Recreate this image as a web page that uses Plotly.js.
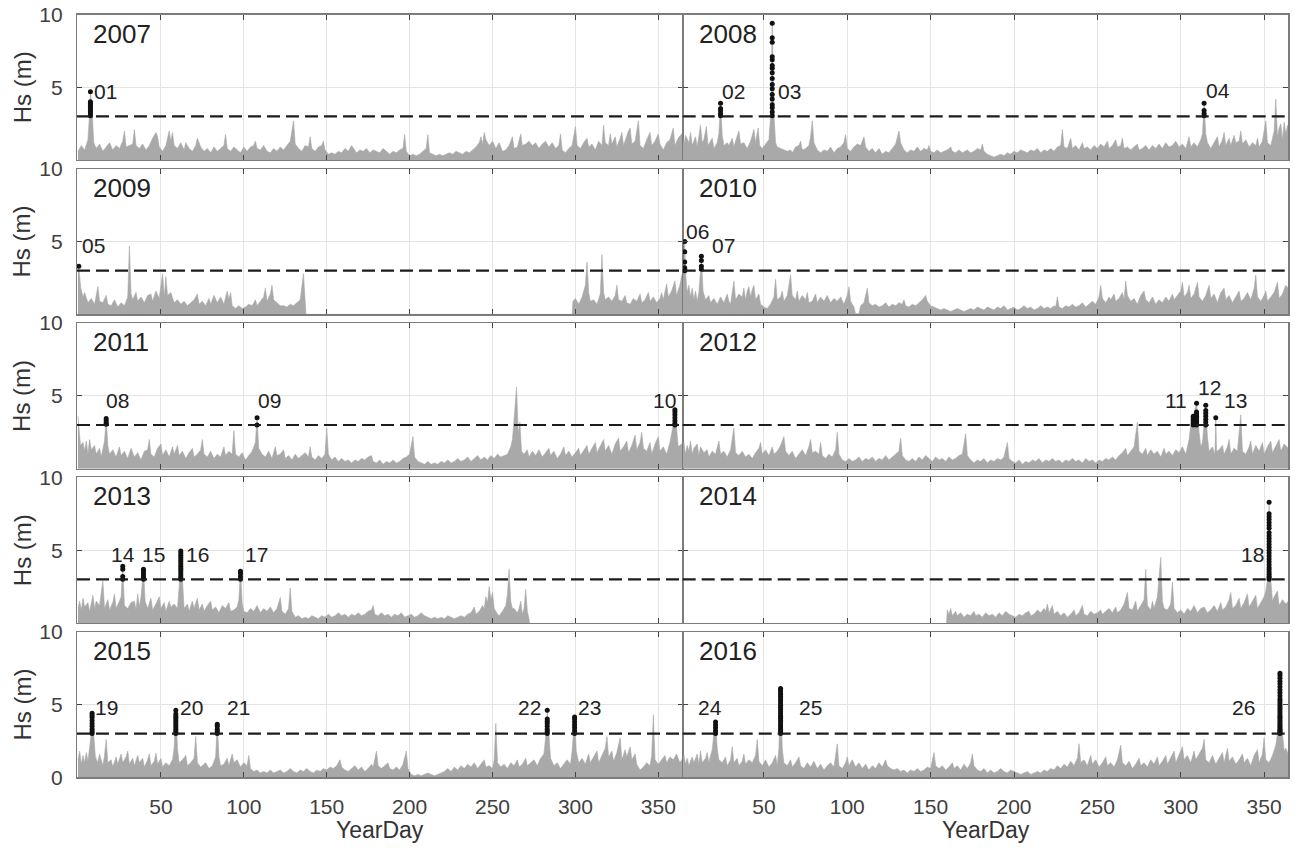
<!DOCTYPE html>
<html>
<head>
<meta charset="utf-8">
<script src="https://cdn.plot.ly/plotly-3.0.1.min.js"></script>
<style>
  html, body { margin: 0; padding: 0; background: #fff; }
  #chart { width: 1295px; height: 848px; }
</style>
</head>
<body>
<div id="chart"></div>
<script>
// Significant wave height, one record per year: [YearDay, Hs (m)]
const hs2007 = [[0,0.6],[2,1.0],[4,0.7],[6,1.4],[7,3.2],[7.5,4.7],[8.5,3.4],[9.5,1.2],[11,0.8],[13,1.1],[15,0.6],[17,0.9],[19,1.2],[21,0.7],[23,1.0],[25,0.8],[27,1.3],[28,2.0],[29,0.9],[31,1.0],[33,1.1],[34,2.1],[35,1.0],[37,0.8],[39,1.1],[41,0.7],[43,1.0],[45,1.5],[47,1.9],[48,1.6],[49,0.9],[51,0.6],[53,1.0],[55,2.0],[56,1.3],[57,1.9],[58,1.0],[60,0.8],[62,1.2],[64,0.7],[65,1.2],[67,0.8],[69,0.6],[71,1.0],[72,1.5],[74,0.9],[76,0.6],[78,0.8],[80,0.5],[82,0.9],[84,0.6],[86,0.8],[88,1.0],[89,1.75],[90,0.8],[92,0.6],[94,0.9],[96,0.7],[98,0.5],[100,0.9],[102,0.6],[104,0.9],[106,1.0],[107,1.3],[108,0.8],[110,0.7],[112,1.0],[114,0.6],[116,0.5],[118,0.8],[120,0.6],[122,0.9],[124,0.7],[126,1.0],[128,1.3],[130,2.7],[131,1.1],[133,0.8],[135,0.6],[137,1.0],[139,0.9],[140,1.6],[141,0.8],[143,0.6],[145,0.9],[147,1.0],[148,1.3],[149,0.7],[151,0.4],[153,0.5],[155,0.4],[157,0.6],[159,0.5],[161,0.8],[163,0.6],[165,1.0],[166,0.8],[168,0.5],[170,0.7],[172,0.6],[174,0.8],[176,0.5],[178,0.7],[180,0.6],[182,0.5],[184,0.8],[186,0.6],[188,0.4],[190,0.6],[192,0.5],[194,0.7],[196,0.8],[197,1.75],[198,0.6],[200,0.3],[202,0.4],[204,0.3],[206,0.4],[208,0.6],[210,0.8],[211,1.75],[212,0.5],[214,0.4],[216,0.3],[218,0.4],[220,0.3],[222,0.4],[224,0.5],[226,0.4],[228,0.6],[230,0.5],[232,0.4],[234,0.6],[236,0.5],[238,0.7],[240,0.9],[242,1.2],[243,1.6],[244,1.1],[245,1.9],[246,1.4],[248,1.0],[250,1.3],[252,0.8],[254,1.2],[256,0.6],[258,0.7],[260,1.0],[262,1.6],[263,0.8],[265,0.9],[267,1.8],[268,1.0],[270,1.1],[272,1.3],[274,1.0],[276,1.2],[278,0.8],[280,1.1],[282,1.3],[284,0.9],[286,1.2],[288,0.8],[290,1.0],[291,1.8],[292,0.7],[294,0.5],[296,0.8],[298,1.0],[300,2.3],[301,1.0],[303,0.8],[305,1.2],[307,1.5],[308,0.9],[310,1.1],[312,0.7],[314,1.3],[316,1.0],[317,2.4],[318,1.2],[320,1.0],[321,1.8],[322,1.1],[324,1.6],[325,0.9],[327,1.5],[328,1.9],[329,1.0],[331,1.7],[332,2.0],[333,2.2],[334,1.1],[336,1.3],[338,2.7],[339,1.0],[341,0.8],[343,1.4],[345,1.9],[346,1.0],[348,1.3],[350,1.8],[351,1.1],[353,0.7],[355,1.2],[357,1.4],[359,2.2],[360,1.0],[362,1.5],[364,1.8],[365,1.6]];

const hs2008 = [[0,1.2],[1,1.8],[2,1.0],[3,1.7],[5,1.2],[6,1.9],[7,1.0],[9,1.6],[10,0.9],[12,2.4],[13,1.2],[14,1.4],[15.5,2.3],[16.5,1.0],[18,1.3],[19,1.5],[20,0.8],[22,1.2],[23,1.8],[24,3.9],[25,1.7],[26,1.0],[28,1.2],[29,1.0],[31,1.5],[32,0.9],[33,1.3],[35,2.0],[36,1.1],[38,1.2],[40,0.8],[42,1.3],[44,2.1],[45,1.2],[46.5,2.2],[47.5,1.0],[49,0.8],[51,1.1],[53,1.4],[54,3.0],[55,9.4],[56,3.2],[57,1.2],[58,0.9],[60,0.8],[62,0.7],[64,0.6],[66,0.7],[67,0.5],[69,0.9],[71,1.0],[72,1.3],[73,0.7],[75,0.8],[77,1.0],[78,1.6],[79,2.7],[80,1.2],[82,0.7],[84,0.5],[86,0.7],[88,0.6],[90,0.9],[92,0.5],[94,0.8],[96,0.9],[98,1.2],[99,1.75],[100,0.8],[102,0.6],[104,0.9],[106,1.1],[108,1.0],[110,1.6],[111,0.9],[113,0.6],[115,0.8],[117,0.5],[119,0.8],[121,0.4],[123,0.6],[125,0.5],[127,0.8],[129,1.1],[131,2.0],[132,1.2],[134,0.7],[136,0.5],[138,0.7],[140,0.6],[142,0.9],[144,0.6],[146,0.8],[148,0.7],[149,1.0],[150,0.6],[152,0.5],[154,0.7],[156,0.5],[158,0.6],[160,0.7],[162,0.9],[163,0.6],[165,0.5],[167,0.7],[169,0.5],[171,0.6],[172,0.7],[174,0.5],[176,0.6],[178,0.8],[180,0.7],[181,1.1],[182,0.6],[184,0.4],[186,0.3],[188,0.2],[190,0.3],[192,0.4],[194,0.3],[196,0.5],[198,0.4],[200,0.6],[202,0.5],[204,0.7],[206,0.6],[208,0.5],[210,0.7],[212,0.6],[214,0.8],[216,0.5],[218,0.7],[220,0.6],[222,0.8],[224,0.6],[226,0.9],[228,1.0],[229,2.1],[230,0.9],[232,0.8],[234,1.5],[235,0.8],[237,1.0],[239,0.7],[241,1.2],[242,0.8],[244,0.9],[246,0.7],[248,1.0],[250,0.8],[252,1.1],[254,0.9],[256,1.3],[257,0.8],[259,1.0],[261,1.4],[262,0.9],[264,1.0],[265,1.5],[266,0.8],[268,0.9],[270,0.7],[272,0.9],[274,1.1],[275,0.7],[277,0.8],[279,1.0],[281,0.7],[283,1.0],[285,0.8],[287,1.1],[289,0.8],[291,1.2],[293,0.9],[295,1.0],[297,1.3],[299,0.9],[301,1.1],[303,0.8],[305,1.6],[306,0.9],[308,1.2],[310,0.9],[312,1.4],[313,1.8],[314,3.9],[315,1.8],[316,1.2],[318,0.8],[320,1.2],[322,1.6],[323,0.9],[325,1.4],[326,1.9],[327,1.0],[329,1.5],[330,1.0],[332,1.7],[333,1.2],[335,1.3],[336,2.0],[337,1.1],[339,1.4],[341,0.9],[343,1.2],[345,1.0],[346,1.5],[347,0.9],[349,1.3],[351,2.7],[352,1.2],[354,1.0],[356,2.0],[357,4.2],[358,1.6],[359,2.2],[360,2.5],[361,1.4],[362,2.6],[363,1.8],[364,2.4],[365,2.0]];

const hs2009 = [[0,3.0],[0.5,3.3],[1,2.6],[1.7,1.8],[3,1.2],[4,1.5],[6,0.8],[8,1.1],[10,0.7],[12,1.9],[13,0.9],[15,0.8],[17,1.3],[18,0.7],[20,0.6],[22,1.0],[24,0.5],[26,0.8],[28,0.6],[30,1.2],[31,4.7],[32,1.4],[33,1.0],[35,1.5],[36,0.9],[38,1.2],[40,0.8],[42,1.3],[44,1.4],[45,0.9],[47,1.6],[49,1.1],[51,2.8],[52,1.2],[53,2.6],[54,1.3],[56,1.5],[58,0.8],[60,1.0],[62,0.7],[64,0.9],[66,0.6],[68,0.8],[70,1.0],[72,1.4],[73,0.7],[75,0.9],[77,0.6],[79,1.1],[80,0.7],[82,1.3],[84,0.8],[86,1.2],[88,0.7],[90,1.6],[91,1.0],[92,1.5],[93,0.6],[95,0.4],[97,0.6],[99,0.4],[101,0.5],[103,0.7],[105,0.6],[107,1.0],[108,0.6],[110,0.9],[112,1.2],[113,1.8],[114,0.9],[116,1.4],[117,2.0],[118,1.0],[120,0.8],[122,0.6],[124,0.6],[126,0.5],[128,0.7],[130,0.6],[132,0.8],[134,1.0],[136,2.8],[137,0.9],[137.5,0],[298,0],[298.5,0.9],[300,1.1],[302,0.7],[304,1.2],[305,1.6],[306,2.0],[307,3.6],[308,1.5],[309,0.9],[311,1.0],[313,0.7],[315,1.4],[316,4.1],[317,1.5],[318,1.0],[320,1.2],[322,0.9],[324,1.3],[325,2.0],[326,1.0],[328,0.9],[330,1.3],[331,0.8],[333,0.7],[335,1.1],[337,0.9],[339,1.4],[340,0.8],[342,1.0],[344,1.5],[345,0.9],[347,1.2],[349,0.8],[351,1.1],[352,1.5],[353,1.0],[355,2.1],[356,1.2],[358,1.6],[360,2.3],[361,1.3],[363,2.0],[364,2.6],[365,3.0]];

const hs2010 = [[1.3,2.0],[2,3.0],[2.5,5.0],[3.2,2.6],[4,1.5],[5,2.0],[6,1.2],[7,1.8],[8,1.0],[9,1.6],[10,0.9],[11,1.5],[12,3.0],[12.5,4.0],[13.5,1.6],[15,1.0],[17,1.3],[18,0.8],[20,1.1],[22,0.7],[24,1.2],[26,0.8],[28,1.4],[29,0.9],[30,0.7],[32,2.3],[33,1.0],[35,1.4],[37,1.2],[38,1.8],[39,1.0],[40,1.6],[41,1.9],[42,1.2],[43,1.7],[44,2.0],[45,1.0],[47,1.4],[48,0.7],[50,0.5],[52,0.4],[54,0.7],[56,1.2],[57,2.4],[58,1.0],[60,1.2],[61,1.6],[62,0.9],[64,1.3],[66,2.7],[67,1.3],[69,1.0],[70,1.6],[71,0.9],[73,1.3],[75,1.0],[76,1.5],[77,0.8],[79,0.9],[81,1.4],[82,0.8],[84,1.2],[86,0.9],[88,1.3],[90,0.8],[92,1.1],[94,0.9],[96,1.2],[98,0.7],[100,1.3],[101,1.9],[102,0.9],[104,0.5],[105,0.05],[107,0.05],[108,0.6],[110,0.8],[112,1.8],[113,0.8],[115,0.6],[117,0.7],[119,0.5],[121,0.6],[123,0.8],[125,0.5],[127,0.7],[129,0.6],[131,0.8],[133,0.7],[134,1.0],[135,0.6],[137,0.5],[139,0.7],[141,0.6],[143,0.8],[145,1.0],[147,1.3],[148,0.9],[150,0.6],[152,0.5],[154,0.4],[156,0.3],[158,0.4],[160,0.3],[162,0.2],[164,0.3],[166,0.4],[168,0.3],[170,0.2],[172,0.3],[174,0.4],[176,0.3],[178,0.5],[180,0.4],[182,0.3],[184,0.5],[186,0.4],[188,0.3],[190,0.5],[192,0.4],[194,0.6],[196,0.3],[198,0.4],[200,0.5],[202,0.3],[204,0.4],[206,0.6],[208,0.4],[210,0.5],[212,0.3],[214,0.4],[216,0.6],[218,0.4],[220,0.5],[222,0.4],[224,0.6],[225,0.5],[226,1.2],[227,0.5],[229,0.4],[231,0.6],[233,0.5],[235,0.7],[237,0.5],[239,0.6],[241,0.8],[243,0.5],[245,0.7],[247,0.9],[249,0.7],[251,1.2],[252,2.0],[253,1.1],[255,0.8],[257,1.2],[258,1.0],[260,1.4],[261,0.9],[263,1.1],[265,1.5],[266,1.0],[267,2.3],[268,1.3],[270,0.9],[272,1.1],[274,0.7],[276,1.3],[278,1.6],[279,1.0],[281,0.8],[283,1.2],[285,0.7],[287,1.0],[289,0.8],[291,1.2],[293,0.9],[295,1.4],[296,1.0],[298,1.3],[300,1.6],[301,2.2],[302,1.2],[304,1.5],[305,2.0],[306,1.1],[308,1.4],[310,2.2],[311,1.2],[313,0.9],[315,1.3],[317,2.0],[318,1.1],[320,1.4],[322,0.8],[324,1.5],[326,1.8],[327,1.0],[329,1.3],[331,0.8],[333,1.2],[335,1.6],[336,0.9],[338,1.1],[340,1.5],[342,1.0],[344,1.8],[345,2.7],[346,1.2],[348,0.9],[350,1.3],[351,1.6],[352,0.9],[354,1.2],[356,1.5],[358,2.2],[359,1.1],[361,1.4],[363,2.0],[364.5,1.8]];

const hs2011 = [[0,3.6],[0.8,2.5],[1.5,1.6],[3,1.8],[4,1.2],[5,1.9],[6,1.0],[7,2.0],[8,1.3],[10,1.6],[11,1.0],[13,1.4],[14,0.8],[16,1.9],[17,3.5],[18,1.6],[19,1.0],[21,1.3],[23,0.8],[25,1.5],[26,0.9],[28,1.2],[30,0.7],[32,1.4],[34,0.8],[36,1.1],[38,0.6],[40,1.2],[42,1.3],[43,2.0],[44,1.0],[46,0.8],[48,1.4],[50,1.7],[51,0.9],[53,1.3],[55,0.8],[57,1.5],[58,1.0],[60,1.6],[61,0.9],[63,1.2],[65,0.7],[67,1.1],[69,1.4],[70,0.8],[72,1.0],[74,1.3],[75,2.0],[76,1.0],[78,0.8],[80,1.2],[82,0.7],[84,1.0],[86,0.8],[88,1.5],[89,0.9],[91,1.2],[93,1.0],[94,2.6],[95,1.0],[97,0.8],[99,1.1],[101,0.6],[103,0.9],[105,1.2],[107,1.8],[108,3.5],[109,1.4],[111,1.0],[113,0.8],[115,1.2],[117,0.7],[119,1.5],[120,0.9],[122,1.0],[124,1.3],[125,0.7],[127,0.9],[129,0.6],[131,1.0],[133,0.7],[135,0.9],[137,1.1],[139,0.8],[140,1.5],[141,0.8],[143,0.6],[145,0.9],[147,0.7],[149,1.0],[150,2.8],[151,1.0],[153,0.6],[155,0.8],[157,0.5],[159,0.7],[161,0.5],[163,0.6],[165,0.4],[167,0.6],[169,0.5],[171,0.7],[173,0.6],[175,0.8],[177,0.9],[178,0.5],[180,0.4],[182,0.6],[184,0.3],[186,0.5],[188,0.4],[190,0.6],[192,0.4],[194,0.5],[196,0.7],[198,0.8],[200,1.0],[202,2.2],[203,0.8],[205,0.5],[207,0.4],[209,0.3],[211,0.5],[213,0.3],[215,0.4],[217,0.3],[219,0.5],[221,0.4],[223,0.6],[225,0.4],[227,0.5],[229,0.7],[231,0.5],[233,0.6],[235,0.8],[237,0.5],[239,0.7],[241,0.9],[243,0.6],[245,0.8],[247,0.6],[249,0.9],[251,0.7],[253,1.0],[255,0.8],[257,0.9],[259,1.0],[261,1.5],[262,2.0],[263,3.4],[264.5,5.6],[265.5,2.4],[266.5,3.2],[267.5,1.2],[269,1.0],[271,1.3],[272,0.8],[274,1.2],[276,0.9],[278,1.3],[280,0.8],[282,1.1],[284,1.4],[285,0.9],[287,1.2],[289,0.7],[291,1.0],[293,1.5],[294,0.9],[296,1.2],[298,0.8],[300,1.1],[302,1.4],[303,0.9],[305,1.3],[307,1.6],[308,1.0],[310,1.4],[312,1.8],[313,1.1],[315,1.5],[317,2.0],[318,1.2],[320,1.6],[322,1.0],[324,1.7],[326,2.1],[327,1.2],[329,1.5],[331,1.9],[332,1.1],[334,1.6],[336,2.3],[337,1.3],[339,1.8],[340,2.5],[341,1.4],[343,1.2],[345,1.8],[346,1.0],[348,1.7],[350,2.2],[351,1.2],[353,1.5],[355,1.0],[357,1.8],[358,2.4],[359,3.0],[360,4.1],[361,2.8],[362,1.5],[364,1.7],[365,1.5]];

const hs2012 = [[1.3,1.2],[2,1.8],[3,1.0],[4,1.6],[5,1.2],[6,1.9],[7,1.0],[8,1.4],[10,1.7],[11,0.9],[12,1.5],[14,1.1],[16,1.3],[17,0.8],[19,1.2],[21,1.0],[23,1.9],[24,1.0],[26,1.2],[28,0.8],[30,1.3],[32,2.8],[33,1.1],[35,0.9],[37,1.2],[39,0.8],[41,1.0],[43,0.7],[45,1.1],[47,1.4],[48,1.8],[49,1.0],[51,1.3],[53,0.9],[55,1.5],[56,1.0],[58,1.2],[60,1.6],[62,2.2],[63,1.2],[65,0.9],[67,1.2],[69,0.7],[71,1.0],[73,1.3],[75,0.9],[77,1.5],[78,2.0],[79,1.1],[81,1.2],[83,1.0],[84,1.8],[85,0.9],[87,0.7],[89,1.0],[91,0.8],[93,1.3],[94,2.5],[95,1.0],[97,0.6],[99,0.5],[101,0.7],[103,0.5],[105,0.6],[107,0.8],[109,0.5],[111,0.7],[113,0.6],[115,0.8],[117,0.5],[119,0.7],[121,0.6],[123,0.9],[125,0.6],[127,0.8],[129,1.0],[131,1.2],[132,2.1],[133,0.9],[135,0.6],[137,0.5],[139,0.7],[141,0.5],[143,0.8],[145,0.6],[147,0.9],[149,0.7],[151,0.5],[153,0.8],[155,0.6],[157,0.7],[159,0.5],[161,0.8],[163,0.6],[165,0.7],[167,0.9],[169,1.0],[171,2.4],[172,0.9],[174,0.6],[176,0.4],[178,0.6],[180,0.5],[182,0.7],[184,0.4],[186,0.6],[188,0.5],[190,0.7],[192,0.6],[194,0.8],[196,1.8],[197,0.7],[199,0.5],[201,0.4],[203,0.6],[205,0.3],[207,0.5],[209,0.4],[211,0.6],[213,0.5],[215,0.7],[217,0.4],[219,0.6],[221,0.5],[223,0.7],[225,0.5],[227,0.6],[229,0.4],[231,0.6],[233,0.5],[235,0.7],[237,0.5],[239,0.6],[241,0.4],[243,0.7],[245,0.5],[247,0.6],[249,0.4],[251,0.6],[253,0.5],[255,0.7],[257,0.6],[259,0.8],[261,0.6],[263,0.9],[265,1.1],[267,1.4],[268,0.9],[270,1.2],[272,1.5],[274,3.2],[275,1.2],[277,1.0],[279,1.4],[280,0.9],[282,1.3],[284,1.0],[286,1.2],[288,0.8],[290,1.4],[291,1.0],[293,1.2],[295,0.9],[297,1.3],[299,1.1],[301,1.5],[303,1.0],[305,2.0],[306,3.0],[307.5,3.6],[309.5,4.5],[311,2.5],[312,1.5],[313,1.8],[314,3.0],[315,4.35],[316,2.2],[317,1.2],[319,1.5],[320.5,1.0],[321,3.5],[321.5,1.2],[323,1.3],[325,1.6],[326,1.0],[328,1.5],[329,2.0],[330,1.0],[332,1.4],[334,1.2],[336,3.7],[337,1.2],[339,1.0],[341,1.5],[342,1.9],[343,1.0],[345,1.6],[347,1.2],[349,1.8],[350,1.0],[352,1.5],[354,1.9],[355,1.1],[357,1.6],[359,2.0],[360,1.2],[362,1.7],[364.5,1.4]];

const hs2013 = [[0,1.0],[1,1.5],[2,0.9],[3,1.7],[4,1.1],[6,1.4],[7,0.8],[9,1.9],[10,1.0],[11,1.5],[13,1.2],[15,2.9],[16,1.0],[18,1.6],[19,0.9],[21,1.4],[22,2.0],[23,1.0],[25,1.5],[26,1.8],[27,3.9],[28,1.2],[30,1.0],[32,1.4],[34,1.5],[35,0.9],[36,2.0],[37,1.1],[38,1.8],[39.5,3.7],[40.5,1.5],[42,1.0],[44,1.7],[45,0.9],[47,1.3],[49,1.8],[50,1.0],[52,1.4],[53,0.8],[55,1.5],[56,1.1],[58,1.3],[60,1.0],[61,2.5],[62,5.0],[63,2.5],[64,1.0],[66,1.3],[67,0.8],[69,1.5],[70,1.0],[72,1.7],[73,0.9],[75,1.3],[76,0.8],[78,1.2],[80,1.5],[81,0.9],[83,1.1],[85,0.7],[87,1.2],[89,1.0],[91,1.4],[92,0.8],[94,0.9],[96,1.1],[97,1.6],[98,3.6],[99,1.4],[100,0.8],[102,0.7],[104,1.0],[106,0.8],[108,1.2],[110,0.7],[112,1.0],[114,0.8],[116,1.1],[118,0.7],[120,1.0],[122,1.75],[123,0.8],[125,0.6],[127,1.0],[128,2.4],[129,0.8],[131,0.4],[133,0.5],[135,0.3],[137,0.4],[139,0.3],[141,0.5],[143,0.4],[145,0.3],[147,0.5],[149,0.4],[151,0.6],[153,0.4],[155,0.5],[157,0.7],[159,0.5],[161,0.6],[163,0.4],[165,0.6],[167,0.5],[169,0.7],[171,0.5],[173,0.6],[175,0.8],[177,0.9],[178,1.2],[179,0.6],[181,0.5],[183,0.7],[185,0.5],[187,0.6],[189,0.4],[191,0.6],[193,0.5],[195,0.7],[197,0.4],[199,0.5],[201,0.6],[203,0.4],[205,0.5],[207,0.7],[209,0.5],[211,0.4],[213,0.3],[215,0.4],[217,0.3],[219,0.4],[221,0.3],[223,0.5],[225,0.4],[227,0.3],[229,0.4],[231,0.5],[233,0.4],[235,0.6],[237,0.7],[239,1.1],[240,0.6],[242,0.8],[244,1.2],[245,1.0],[246,1.8],[247,1.4],[248,2.5],[249,1.6],[250,2.1],[251,1.0],[253,0.6],[254,0.5],[256,0.8],[258,1.2],[259,2.0],[260,3.7],[261,1.5],[262,1.0],[263,1.0],[265,0.7],[266,1.0],[267,1.5],[268,0.6],[269,1.0],[270,2.3],[271,0.8],[272,0.3],[272.3,0]];

const hs2014 = [[159.5,0],[160,0.9],[161,0.6],[162,1.0],[163,0.5],[165,0.8],[166,0.5],[168,0.7],[170,0.4],[172,0.6],[174,0.5],[176,0.8],[177,0.5],[179,0.6],[181,0.4],[183,0.7],[185,0.5],[187,0.6],[189,0.4],[191,0.7],[193,0.5],[195,0.8],[197,0.6],[199,0.5],[201,0.4],[203,0.6],[205,0.5],[207,0.7],[209,0.8],[210,0.5],[212,0.6],[214,0.9],[216,0.7],[218,1.0],[219,0.8],[220,1.3],[221,0.7],[223,1.2],[224,0.6],[226,0.8],[228,0.5],[230,0.7],[232,0.4],[234,0.6],[236,0.9],[237,0.5],[239,0.7],[241,1.2],[242,0.6],[244,0.5],[246,0.8],[248,0.6],[250,0.7],[252,0.9],[253,0.6],[255,0.8],[257,1.0],[259,0.7],[261,1.1],[262,0.7],[264,0.9],[266,1.3],[268,2.1],[269,1.0],[271,0.9],[273,1.5],[274,0.8],[276,1.2],[278,1.6],[279,3.7],[280,1.2],[282,0.9],[283,1.5],[284,1.0],[286,1.8],[288,4.5],[289,1.5],[290,1.0],[292,0.9],[294,1.3],[295,2.8],[296,1.0],[298,0.7],[300,0.9],[302,0.6],[304,1.0],[306,0.8],[308,1.2],[310,0.7],[312,1.0],[314,1.1],[316,0.7],[318,0.9],[320,1.2],[322,0.8],[324,1.4],[325,0.9],[327,1.1],[329,1.6],[330,2.1],[331,1.0],[333,1.2],[335,1.7],[336,1.0],[338,1.4],[340,2.0],[341,1.1],[343,1.5],[345,1.9],[346,1.0],[348,1.4],[350,1.8],[351,2.2],[352,3.0],[353,8.3],[354,3.0],[355,1.5],[356,1.8],[358,2.2],[359,1.2],[361,1.6],[363,1.3],[364.5,1.5]];

const hs2015 = [[0,1.2],[1,1.8],[2,0.9],[3,1.5],[4,1.0],[5,1.7],[6,1.1],[7,2.0],[8,3.0],[8.5,4.4],[9.5,3.0],[10.5,1.4],[12,1.0],[13,1.6],[15,0.8],[16,1.5],[17,2.6],[18,1.0],[20,1.2],[21,0.7],[23,1.4],[24,0.9],[26,1.6],[27,1.0],[29,1.4],[30,1.8],[31,0.9],[33,1.3],[34,0.8],[36,1.5],[37,1.0],[39,1.3],[40,0.7],[42,1.2],[43,1.6],[44,0.8],[46,1.1],[47,1.65],[48,0.9],[50,1.3],[51,0.7],[53,1.0],[55,0.8],[57,1.2],[58,2.0],[59,4.6],[60,2.0],[61,1.0],[63,1.2],[65,1.5],[66,0.8],[68,1.0],[70,1.3],[71,2.8],[72,1.0],[74,0.7],[76,0.9],[77,1.0],[79,0.6],[81,0.8],[83,1.4],[84,3.7],[85,1.4],[86,0.8],[88,0.9],[90,1.3],[91,0.8],[93,1.6],[94,1.0],[96,1.2],[98,0.7],[100,1.0],[102,0.8],[103,1.5],[104,0.6],[106,0.4],[108,0.5],[110,0.3],[112,0.4],[114,0.3],[116,0.5],[118,0.3],[120,0.4],[122,0.5],[124,0.3],[126,0.4],[128,0.6],[130,0.4],[132,0.3],[134,0.5],[136,0.4],[138,0.6],[140,0.4],[142,0.3],[144,0.5],[146,0.4],[148,0.6],[150,0.5],[152,0.7],[154,0.6],[156,0.8],[157,1.0],[158,1.2],[159,0.7],[161,0.5],[163,0.4],[165,0.6],[167,0.8],[169,0.5],[171,0.7],[173,0.4],[175,0.6],[177,0.9],[178,0.7],[180,1.8],[181,0.8],[183,0.6],[185,0.8],[187,1.0],[188,0.6],[190,0.5],[192,0.7],[194,0.5],[196,0.9],[198,1.8],[199,0.6],[201,0.2],[203,0.1],[205,0.2],[207,0.1],[209,0.2],[211,0.3],[213,0.2],[215,0.1],[217,0.2],[219,0.3],[221,0.4],[223,0.6],[225,0.4],[227,0.7],[229,0.5],[231,0.8],[233,0.6],[235,0.9],[237,0.7],[239,1.0],[241,0.6],[243,0.9],[245,1.2],[246,0.7],[248,0.8],[250,0.6],[251,1.2],[252,3.7],[253,1.0],[255,0.7],[257,0.9],[259,0.6],[261,1.0],[263,0.8],[265,1.2],[266,0.7],[268,0.9],[270,1.3],[271,0.8],[273,1.0],[275,1.2],[277,0.8],[279,1.3],[281,1.6],[282,2.7],[283,4.6],[284,2.6],[285,1.3],[287,0.8],[289,1.0],[291,0.6],[293,0.9],[295,1.2],[297,0.9],[298,1.8],[299.5,4.15],[300.5,1.8],[302,1.0],[304,1.3],[306,0.9],[308,1.6],[309,1.0],[311,1.4],[313,1.8],[314,1.0],[316,1.5],[318,2.0],[319,2.8],[320,1.4],[322,1.8],[323,1.1],[325,1.7],[327,2.7],[328,1.2],[330,1.9],[331,1.4],[333,2.1],[334,1.2],[336,1.6],[337,0.9],[339,0.5],[341,0.7],[343,1.0],[345,0.8],[346,1.5],[347,4.3],[348,1.2],[350,0.9],[352,1.2],[354,1.5],[355,1.0],[357,1.4],[359,1.2],[361,1.6],[363,1.0],[364.7,1.3]];

const hs2016 = [[1.3,1.0],[2,1.5],[3,0.9],[4,1.3],[5,0.8],[7,1.4],[8,1.0],[10,1.6],[11,0.9],[12,1.8],[13,1.0],[15,1.3],[16,1.7],[17,1.0],[18,1.5],[19,1.9],[20,3.0],[21,3.8],[22,2.0],[23,1.2],[25,1.0],[27,1.4],[28,0.8],[30,1.2],[31,2.1],[32,1.0],[34,1.3],[35,0.8],[37,1.1],[38,1.6],[39,0.9],[41,1.2],[43,1.0],[45,1.5],[46,2.6],[47,1.1],[49,0.8],[51,1.2],[53,0.7],[55,1.0],[57,1.5],[58,0.8],[59,2.0],[60,6.1],[61,2.0],[62,1.0],[64,0.8],[66,1.2],[67,0.7],[69,1.0],[71,1.4],[72,0.8],[74,0.6],[76,1.0],[78,0.7],[80,1.1],[82,0.6],[84,0.9],[86,0.5],[88,0.8],[90,1.0],[92,0.7],[93,1.5],[94,2.3],[95,0.8],[97,0.6],[99,1.0],[100,1.4],[101,0.8],[103,1.2],[105,0.7],[107,1.0],[109,0.6],[111,0.9],[113,0.5],[115,0.8],[117,0.6],[119,1.0],[121,0.7],[123,1.2],[124,0.8],[126,0.6],[128,0.5],[130,0.6],[132,0.4],[134,0.5],[136,0.3],[138,0.5],[140,0.4],[142,0.6],[144,0.4],[146,0.5],[148,0.7],[150,0.6],[152,1.7],[153,0.8],[155,0.6],[157,0.8],[159,0.5],[161,0.7],[163,1.0],[164,0.6],[166,0.8],[168,0.5],[170,0.9],[172,0.6],[174,1.0],[175,1.6],[176,0.8],[178,0.5],[180,0.4],[182,0.6],[184,0.3],[186,0.5],[188,0.3],[190,0.4],[192,0.6],[194,0.4],[196,0.3],[198,0.5],[200,0.4],[202,0.3],[204,0.2],[206,0.3],[208,0.4],[210,0.2],[212,0.3],[214,0.4],[216,0.3],[218,0.5],[220,0.4],[222,0.6],[224,0.5],[226,0.8],[228,0.6],[230,0.9],[232,0.7],[234,1.1],[236,0.8],[238,1.3],[239,2.3],[240,1.0],[242,1.2],[244,0.8],[246,1.5],[247,0.9],[249,1.2],[251,0.7],[253,1.0],[255,1.4],[256,0.8],[258,1.0],[260,0.7],[262,1.2],[264,2.2],[265,1.0],[267,0.8],[269,1.1],[271,0.6],[273,0.9],[275,1.3],[276,0.8],[278,1.0],[280,0.7],[282,1.2],[284,0.9],[286,1.4],[287,0.8],[289,1.1],[291,1.5],[292,0.9],[294,1.3],[296,1.8],[297,1.0],[299,1.6],[301,2.1],[302,1.2],[304,1.5],[306,1.0],[308,1.8],[309,1.2],[311,1.6],[313,2.0],[314,2.6],[315,1.2],[317,1.0],[319,1.5],[321,0.9],[323,1.3],[325,1.7],[326,1.0],[328,2.0],[329,1.1],[331,1.4],[333,0.9],[335,1.2],[337,1.6],[338,1.0],[340,1.3],[342,0.8],[344,1.5],[346,1.9],[347,1.0],[349,1.6],[350,2.7],[351,1.2],[353,1.0],[355,1.5],[357,2.2],[358,3.0],[359.5,7.15],[361,3.0],[362,1.8],[363,2.0],[364.5,1.6]];

const years = [2007, 2008, 2009, 2010, 2011, 2012, 2013, 2014, 2015, 2016];
const yearSeries = [hs2007, hs2008, hs2009, hs2010, hs2011, hs2012, hs2013, hs2014, hs2015, hs2016];

// Storm threshold (m)
const threshold = 3;

// Storm records above the threshold: year, YearDay and the Hs values of each record
const stormYear = [2007, 2008, 2008, 2008, 2009, 2010, 2010, 2011, 2011, 2011, 2012, 2012, 2012, 2012, 2013, 2013, 2013, 2013, 2014, 2015, 2015, 2015, 2015, 2015, 2016, 2016, 2016];
const stormDay = [7.5, 24, 55, 314, 0.5, 2.5, 12.5, 17, 108, 360, 307.5, 309.5, 315, 321, 27, 39.5, 62, 98, 353, 8.5, 59, 84, 283, 299.5, 21, 60, 359.5];
const stormHs = [
  [3.05,3.2,3.35,3.5,3.6,3.7,3.8,3.9,4.0,4.7],
  [3.05,3.2,3.4,3.55,3.9],
  [3.05,3.3,3.6,3.8,4.2,4.5,4.9,5.2,5.6,6.0,6.3,6.5,6.9,7.1,8.1,8.4,9.4],
  [3.05,3.2,3.4,3.9],
  [3.3],
  [3.0,3.1,3.2,3.6,4.3,5.0],
  [3.1,3.3,3.7,4.0],
  [3.05,3.15,3.3,3.45],
  [3.0,3.5],
  [3.0,3.1,3.3,3.5,3.7,3.9,4.05],
  [3.0,3.1,3.2,3.3,3.4,3.5,3.6],
  [3.0,3.15,3.3,3.45,3.6,3.75,3.9,4.5],
  [3.0,3.2,3.4,3.6,3.8,4.0,4.35],
  [3.5],
  [3.0,3.2,3.7,3.9],
  [3.0,3.15,3.3,3.45,3.6,3.7],
  [3.0,3.15,3.3,3.45,3.6,3.75,3.9,4.05,4.2,4.35,4.5,4.65,4.8,4.95],
  [3.0,3.2,3.4,3.55],
  [3.0,3.1,3.2,3.35,3.5,3.65,3.8,4.0,4.2,4.4,4.6,4.8,5.0,5.2,5.4,5.6,5.8,6.0,6.2,6.5,6.7,6.9,7.1,7.3,7.5,8.3],
  [3.0,3.15,3.3,3.5,3.7,3.9,4.1,4.25,4.4],
  [3.0,3.15,3.3,3.45,3.6,3.75,3.9,4.05,4.2,4.35,4.6],
  [3.0,3.15,3.3,3.5,3.65],
  [3.0,3.15,3.3,3.5,3.7,3.85,4.0,4.6],
  [3.0,3.2,3.4,3.6,3.8,4.0,4.15],
  [3.0,3.2,3.4,3.6,3.8],
  [3.0,3.15,3.3,3.45,3.6,3.75,3.9,4.05,4.2,4.35,4.5,4.65,4.8,4.95,5.1,5.25,5.4,5.55,5.7,5.85,6.0,6.1],
  [3.0,3.1,3.2,3.3,3.45,3.6,3.75,3.9,4.05,4.2,4.35,4.5,4.65,4.8,4.95,5.1,5.25,5.4,5.6,5.8,6.0,6.2,6.4,6.6,6.8,7.0,7.15]
];

// Storm numbers
const stormLabels = ['01','02','03','04','05','06','07','08','09','10','11','12','13','14','15','16','17','18','19','20','21','22','23','24','25','26'];
const stormLabelYear = [2007,2008,2008,2008,2009,2010,2010,2011,2011,2011,2012,2012,2012,2013,2013,2013,2013,2014,2015,2015,2015,2015,2015,2016,2016,2016];

// Placement of the storm numbers (YearDay, Hs) inside their panels
const labelAt = [
  [16.8,4.7],[31.5,4.7],[65.6,4.7],[322.4,4.8],[9.5,4.7],[10,5.7],[26,4.7],[23.6,4.7],[115.6,4.7],[353.8,4.7],
  [297.2,4.7],[317.4,5.6],[333,4.7],[27,4.7],[45.6,4.7],[72,4.7],[107.4,4.7],[343.2,4.7],
  [17,4.8],[68.2,4.8],[96.5,4.8],[272.4,4.8],[308.5,4.8],[17.6,4.8],[77.8,4.8],[337.8,4.8]
];

// ---- layout geometry (pixels) ----
const W = 1295, H = 848;
const colLeft = [77.0, 682.7], colRight = [682.7, 1288.3];
const colRange = [[-0.6, 364.7], [1.3, 364.5]];
const rowTop0 = 14.5, rowStep = 154.3, rowH = 145.6;
const font = 'Liberation Sans, Arial, Helvetica, sans-serif';

const traces = [];
const layout = {
  width: W, height: H,
  margin: {l: 0, r: 0, t: 0, b: 0, pad: 0},
  paper_bgcolor: '#ffffff', plot_bgcolor: '#ffffff',
  showlegend: false,
  font: {family: font, color: '#333'},
  annotations: [], shapes: []
};

years.forEach((yr, i) => {
  const row = Math.floor(i / 2), col = i % 2;
  const n = i + 1;
  const xa = n === 1 ? 'x' : 'x' + n, ya = n === 1 ? 'y' : 'y' + n;
  const xKey = n === 1 ? 'xaxis' : 'xaxis' + n, yKey = n === 1 ? 'yaxis' : 'yaxis' + n;
  const top = rowTop0 + row * rowStep, bottom = top + rowH;
  const isBottom = row === 4, isLeft = col === 0;

  layout[xKey] = {
    domain: [colLeft[col] / W, colRight[col] / W],
    anchor: ya, range: colRange[col], fixedrange: true,
    tickmode: 'array', tickvals: [50, 100, 150, 200, 250, 300, 350],
    showticklabels: isBottom, ticks: 'inside', ticklen: 5, tickwidth: 1, tickcolor: '#444',
    ticklabelstandoff: 10,
    tickfont: {family: font, size: 21, color: '#404040'},
    showgrid: true, gridcolor: '#e4e4e4', gridwidth: 1, zeroline: false,
    showline: true, mirror: 'allticks', linecolor: '#7c7c7c', linewidth: 1.2,
    automargin: false
  };
  layout[yKey] = {
    domain: [1 - bottom / H, 1 - top / H],
    anchor: xa, range: [0, 10], fixedrange: true,
    tickmode: 'array', tickvals: isBottom ? [0, 5, 10] : [5, 10],
    showticklabels: isLeft, ticks: 'inside', ticklen: 5, tickwidth: 1, tickcolor: '#444',
    ticklabelstandoff: 9,
    tickfont: {family: font, size: 21, color: '#404040'},
    showgrid: true, gridcolor: '#e4e4e4', gridwidth: 1, zeroline: false,
    showline: true, mirror: 'allticks', linecolor: '#7c7c7c', linewidth: 1.2,
    automargin: false
  };

  // Hs record as a filled grey trace
  const rec = yearSeries[i];
  traces.push({
    type: 'scatter', mode: 'lines', xaxis: xa, yaxis: ya,
    x: rec.map(p => p[0]), y: rec.map(p => p[1]),
    fill: 'tozeroy', fillcolor: '#a9a9a9',
    line: {color: '#a9a9a9', width: 0.6}, hoverinfo: 'skip'
  });

  // Storm threshold
  layout.shapes.push({
    type: 'line', xref: xa + ' domain', yref: ya, x0: 0, x1: 1, y0: threshold, y1: threshold,
    line: {color: '#1c1c1c', width: 2.2, dash: '13px,6px'}, layer: 'above'
  });

  // Storm records
  const sx = [], sy = [];
  stormYear.forEach((sYr, k) => {
    if (sYr !== yr) return;
    stormHs[k].forEach(v => { sx.push(stormDay[k]); sy.push(v); });
  });
  if (sx.length) {
    traces.push({
      type: 'scatter', mode: 'markers', xaxis: xa, yaxis: ya, x: sx, y: sy,
      marker: {size: 5, color: '#111111', line: {width: 0}}, hoverinfo: 'skip', cliponaxis: false
    });
  }

  // Storm numbers
  stormLabels.forEach((lab, k) => {
    if (stormLabelYear[k] !== yr) return;
    layout.annotations.push({
      xref: xa, yref: ya, x: labelAt[k][0], y: labelAt[k][1], text: lab,
      showarrow: false, xanchor: 'center', yanchor: 'middle',
      font: {family: font, size: 21, color: '#222'}
    });
  });

  // Year tag
  layout.annotations.push({
    xref: 'paper', yref: 'paper', x: (colLeft[col] + 14) / W, y: 1 - (top + 19) / H,
    text: String(yr), showarrow: false, xanchor: 'left', yanchor: 'middle',
    font: {family: font, size: 26, color: '#222'}
  });

  // Axis titles
  if (isLeft) {
    layout.annotations.push({
      xref: 'paper', yref: 'paper', x: 22 / W, y: 1 - (top + rowH / 2) / H,
      text: 'Hs (m)', textangle: -90, showarrow: false, xanchor: 'center', yanchor: 'middle',
      font: {family: font, size: 24, color: '#333'}
    });
  }
  if (isBottom) {
    layout.annotations.push({
      xref: 'paper', yref: 'paper', x: (colLeft[col] + colRight[col]) / 2 / W, y: 3 / H,
      text: 'YearDay', showarrow: false, xanchor: 'center', yanchor: 'bottom',
      font: {family: font, size: 23, color: '#333'}
    });
  }
});

Plotly.newPlot('chart', traces, layout, {staticPlot: true, displayModeBar: false});
</script>
</body>
</html>
